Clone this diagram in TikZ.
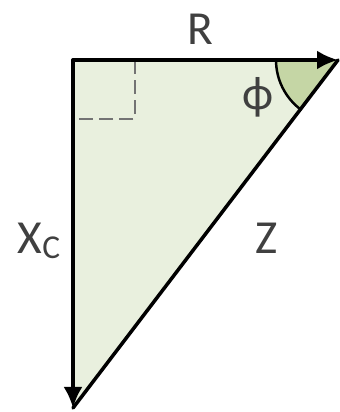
\documentclass[tikz,border=0pt]{standalone}
\usepackage{fontspec}
\setmainfont{Carlito}
\usetikzlibrary{calc,arrows.meta,positioning}

\begin{document}
\begin{tikzpicture}[>={Latex[length=0.42cm,width=0.38cm]}, line join=round, line cap=round]
		
		% Colours
		\definecolor{lightgreen}{RGB}{233, 240, 222}
		\definecolor{anglegreen}{RGB}{197, 214, 165}
		\definecolor{textgray}{RGB}{64, 64, 64}
		\tikzset{
			label text/.style={textgray, font=\fontsize{27}{32}\selectfont},
			vector/.style={->, black, line width=2pt}
		}
		
		\useasboundingbox (0, 0) rectangle (6.78, 8.24);
		
		% Coordinates
		\coordinate (O) at (1.46, 7.04);
		\coordinate (R) at (6.76, 7.04);
		\coordinate (X) at (1.46, 0.08);
		
		% 1. Triangle fill
		\fill[lightgreen] (O) -- (R) -- (X) -- cycle;
		
		% 2. Angle sector at R
		\fill[anglegreen] (R) -- ++(180:1.24) arc[start angle=180, end angle=232.7, radius=1.24] -- cycle;
		\draw[black, line width=1.4pt] (R) ++(180:1.24) arc[start angle=180, end angle=232.7, radius=1.24];
		
		% 3. Right-angle square (dashed)
		\draw[gray!90!black, line width=1.2pt, line cap=butt, dash pattern=on 8pt off 3.5pt] ($(O)+(1.24,0)$) |- ($(O)+(0,-1.18)$);
		
		% 4. Hypotenuse Z
		\draw[black, line width=2pt] (R) -- (X);
		
		% 5. Vectors R and X_C
		\draw[vector] (O) -- (R);
		\draw[vector] (O) -- (X);
		
		% 6. Labels
		\node[label text] (lblR) at (4.0, 7.66) {R};
		\node[label text] (lblPhi) at (5.16, 6.30) {ϕ};
		\node[label text] (lblX) at (0.78, 3.42) {X\raisebox{-3pt}{\fontsize{19}{22}\selectfont C}};
		\node[label text] (lblZ) at (5.34, 3.48) {Z};
		
	\end{tikzpicture}
\end{document}
